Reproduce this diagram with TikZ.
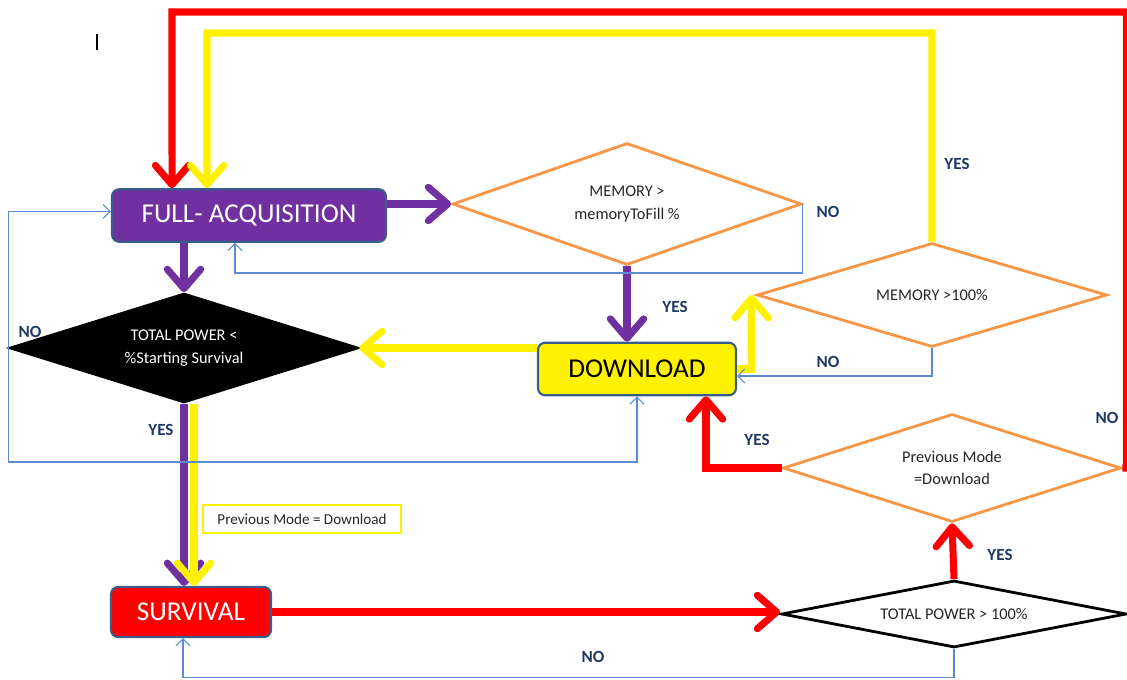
\documentclass[tikz,border=0pt]{standalone}
\usepackage{fontspec}
\setmainfont{Carlito}
\usetikzlibrary{shapes.geometric,arrows.meta,positioning,calc}
\usepackage{xcolor}
\definecolor{modepurple}{HTML}{7030A0}
\definecolor{testorange}{HTML}{F79646}
\definecolor{boxedge}{HTML}{385D8A}
\definecolor{thinblue}{HTML}{5B8BD0}
\definecolor{labelnavy}{HTML}{1F3864}

\begin{document}
\begin{tikzpicture}[x=0.02cm, y=-0.02cm,
    mode/.style={draw=boxedge, line width=1.2pt, rounded corners=4pt, minimum height=1.05cm, font=\fontsize{15.5}{17}\selectfont},
    test/.style={diamond, draw=testorange, line width=1.6pt, fill=white, inner sep=0pt, align=center, text=black!85, font=\fontsize{9.3}{12.8}\selectfont},
    flow/.style={line width=4pt, -{Straight Barb[length=11pt, width=19pt, round]}},
    back/.style={draw=thinblue, line width=0.6pt, -{Straight Barb[length=4pt, width=8pt]}},
    lbl/.style={font=\bfseries\fontsize{9.7}{11}\selectfont, text=labelnavy}]
    \useasboundingbox (0,0) rectangle (1127,680);

    % Modes
    \node[mode, fill=modepurple, text=white, minimum width=5.48cm] (acq) at (249,215.5) {FULL- ACQUISITION};
    \node[mode, fill=yellow, text=black, minimum width=3.96cm] (download) at (637,369) {DOWNLOAD};
    \node[mode, fill=red, text=white, minimum width=3.2cm, minimum height=1cm] (survival) at (191,612) {SURVIVAL};

    % Tests
    \node[test, aspect=2.86, minimum width=6.98cm, minimum height=2.44cm] (memfill) at (627,204) {MEMORY >\\memoryToFill \%};
    \node[test, aspect=3.2, draw=black, fill=black, text=white, minimum width=6.96cm, minimum height=2.18cm] (power) at (184,348) {TOTAL POWER <\\\%Starting Survival};
    \node[test, aspect=3.37, minimum width=7cm, minimum height=2.08cm] (memfull) at (932,295) {MEMORY >100\%};
    \node[test, aspect=3.13, minimum width=6.76cm, minimum height=2.16cm] (prevmode) at (952,468) {Previous Mode\\=Download};
    \node[test, aspect=5.15, draw=black, minimum width=6.9cm, minimum height=1.34cm] (fullpower) at (954,614) {TOTAL POWER > 100\%};

    % Note
    \node[draw=yellow, line width=0.6pt, minimum width=3.96cm, minimum height=0.56cm, font=\fontsize{8.6}{10}\selectfont, text=black!85] (prevnote) at (302,519) {Previous Mode = Download};

    % Cursor mark
    \draw[line width=0.6pt] (97,34) -- (97,50);

    \coordinate (redtop) at (172,12);
    \coordinate (yeltop) at (207,33);

    % Main arrows
    \draw[flow, modepurple] (acq.east |- memfill.west) -- (memfill.west);
    \draw[flow, modepurple] (power.north |- acq.south) -- (power.north);
    \draw[flow, modepurple] (memfill.south) -- (memfill.south |- download.north);
    \draw[flow, yellow] (download.west |- power.east) -- (power.east);
    \draw[flow, modepurple] (power.south) -- (power.south |- survival.north);
    \draw[flow, yellow] ($(power.south)+(10,0)$) -- ($(power.south |- survival.north)+(10,0)$);
    \draw[flow, red] (survival.east) -- (survival.east -| fullpower.west);
    \draw[flow, red] (fullpower.north) -- (prevmode.south);
    \draw[flow, red] (prevmode.west) -| ([xshift=1.38cm]download.south);
    \draw[flow, red] (prevmode.east) -- ++(4,0) |- (redtop) -- ([xshift=-1.54cm]acq.north);
    \draw[flow, yellow] (memfull.north) |- (yeltop) -- ([xshift=-0.84cm]acq.north);
    \draw[flow, yellow] (download.east) -| ([xshift=-0.08cm]memfull.west);

    % Back loops
    \draw[back] (memfill.east) -- ++(0,69) -| ([xshift=-0.28cm]acq.south);
    \draw[back] (memfull.south) |- ([yshift=-0.14cm]download.east);
    \draw[back] (power.west) |- ([yshift=0.08cm]acq.west);
    \draw[back] (power.west) -- ++(0,114) -| (download.south);
    \draw[back] (fullpower.south) -- ++(0,29) -| ([xshift=-0.16cm]survival.south);

    % Labels
    \node[lbl] (nofill) at (828,212) {NO};
    \node[lbl] (yesfill) at (675,307) {YES};
    \node[lbl] (yesfull) at (957,164) {YES};
    \node[lbl] (nofull) at (828,362) {NO};
    \node[lbl] (nopower) at (30,332) {NO};
    \node[lbl] (yespower) at (161,430) {YES};
    \node[lbl] (yesprev) at (757,440) {YES};
    \node[lbl] (noprev) at (1107,418) {NO};
    \node[lbl] (yestotal) at (1000,555) {YES};
    \node[lbl] (nototal) at (593,657) {NO};
\end{tikzpicture}
\end{document}
